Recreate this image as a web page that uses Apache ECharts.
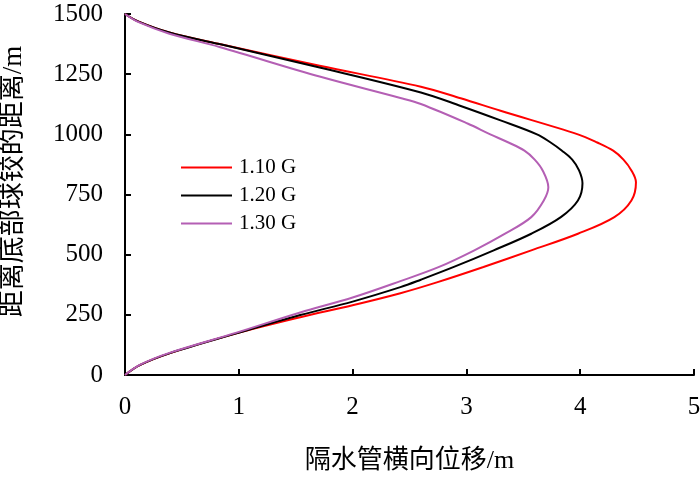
<!DOCTYPE html>
<html>
<head>
<meta charset="utf-8">
<script src="https://cdn.jsdelivr.net/npm/echarts@6/dist/echarts.min.js"></script>
<style>
  html, body { margin: 0; padding: 0; background: #fff; }
  #chart { width: 700px; height: 478px; }
</style>
</head>
<body>
<div id="chart"></div>
<script>
// 隔水管横向位移 [x(m), 距离底部球铰的距离(m)]
var seriesNames = ['1.10 G', '1.20 G', '1.30 G'];
var seriesColors = ['#ff0000', '#000000', '#b45fb4'];

var red110 = [
  [0, 0], [0.13, 41], [0.39, 90], [0.98, 173], [1.54, 240], [2.0, 290],
  [2.42, 340], [2.74, 385], [3.15, 449], [3.57, 518], [3.98, 587],
  [4.3, 656], [4.45, 725], [4.49, 801], [4.45, 850], [4.38, 895], [4.29, 932],
  [4.15, 966], [3.98, 1000], [3.3, 1098], [2.95, 1150], [2.6, 1198], [1.71, 1285],
  [0.83, 1375], [0.39, 1423], [0.12, 1468], [0, 1500]
];
var black120 = [
  [0, 0], [0.13, 41], [0.39, 90], [0.98, 173], [1.54, 249], [2.0, 305],
  [2.42, 365], [2.6, 396], [2.89, 449], [3.24, 518], [3.57, 587],
  [3.83, 656], [3.98, 725], [4.02, 797], [3.99, 850], [3.93, 895], [3.84, 932],
  [3.74, 966], [3.62, 1000], [3.3, 1058], [2.95, 1118], [2.6, 1174], [1.71, 1278],
  [0.83, 1375], [0.39, 1423], [0.12, 1468], [0, 1500]
];
var purple130 = [
  [0, 0], [0.13, 42], [0.39, 92], [0.98, 176], [1.54, 260], [2.0, 322],
  [2.42, 390], [2.76, 449], [3.07, 518], [3.34, 587], [3.57, 656],
  [3.68, 725], [3.72, 780], [3.67, 850], [3.6, 895], [3.51, 932],
  [3.37, 966], [3.21, 1000], [3.01, 1045], [2.6, 1126], [2.42, 1151], [1.71, 1240],
  [0.83, 1363], [0.39, 1418], [0.12, 1466], [0, 1500]
];
var seriesData = [red110, black120, purple130];

var serif = '"Liberation Serif", "Times New Roman", "Noto Sans CJK SC", serif';

var series = seriesNames.map(function (name, i) {
  return {
    name: name,
    type: 'line',
    data: seriesData[i],
    smooth: 0.35,
    symbol: 'none',
    color: seriesColors[i],
    lineStyle: { width: 2, color: seriesColors[i] },
  };
});

var option = {
  animation: false,
  backgroundColor: '#fff',
  grid: { left: 125, right: 6, top: 14, bottom: 103, outerBoundsMode: 'none' },
  legend: {
    orient: 'vertical',
    left: 181,
    top: 157,
    padding: 0,
    icon: 'path://M0,0H51V2H0Z',
    itemWidth: 51,
    itemHeight: 2,
    itemGap: 7,
    textStyle: { fontFamily: serif, fontSize: 21, color: '#000', padding: [0, 0, 0, 2] },
    data: seriesNames,
  },
  xAxis: {
    type: 'value',
    min: 0,
    max: 5,
    interval: 1,
    name: '隔水管横向位移/m',
    nameLocation: 'middle',
    nameGap: 73,
    nameTextStyle: { fontFamily: serif, fontSize: 26, color: '#000' },
    axisLine: { lineStyle: { color: '#000', width: 2 } },
    axisTick: { inside: true, length: 6, lineStyle: { color: '#000', width: 2 } },
    axisLabel: { margin: 20, fontFamily: serif, fontSize: 25, color: '#000' },
    splitLine: { show: false },
  },
  yAxis: {
    type: 'value',
    min: 0,
    max: 1500,
    interval: 250,
    name: '距离底部球铰的距离/m',
    nameLocation: 'middle',
    nameRotate: 90,
    nameGap: 98,
    nameTextStyle: { fontFamily: serif, fontSize: 27, color: '#000', padding: [0, 0, 0, 26] },
    axisLine: { lineStyle: { color: '#000', width: 2 } },
    axisTick: { inside: true, length: 6, lineStyle: { color: '#000', width: 2 } },
    axisLabel: {
      margin: 22,
      fontFamily: serif,
      fontSize: 25,
      color: '#000',
      formatter: function (v) { return String(v); },
    },
    splitLine: { show: false },
  },
  series: series,
};

var chart = echarts.init(document.getElementById('chart'));
chart.setOption(option);
</script>
</body>
</html>
